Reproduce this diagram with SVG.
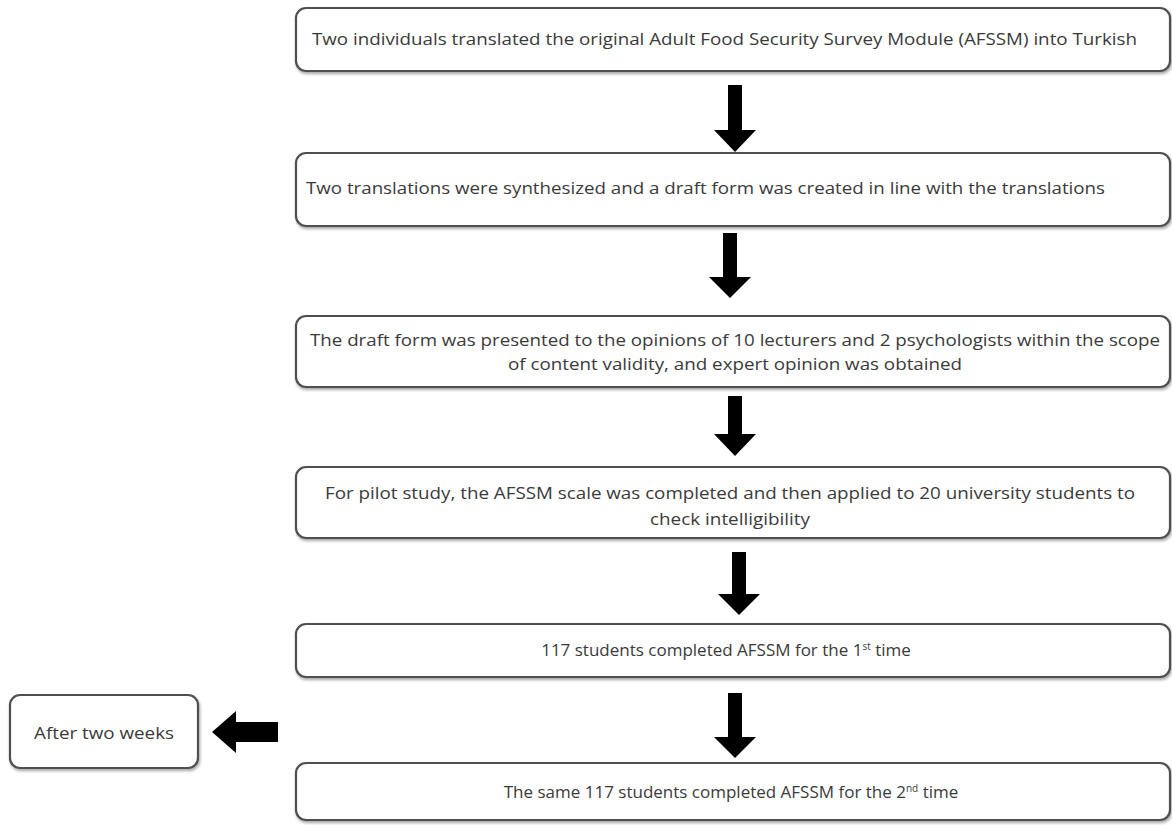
<svg xmlns="http://www.w3.org/2000/svg" width="1172" height="825" viewBox="0 0 1172 825">
<defs>
<style>
.box{fill:#fff;stroke:#505050;stroke-width:2.2;filter:url(#sh)}
.t{font-family:"Open Sans","Liberation Sans",sans-serif;font-size:16px;fill:#3a3a3a}
.c{text-anchor:middle}
.b{font-size:17px}
.arr{fill:#000}
</style>
<filter id="sh" x="-5%" y="-20%" width="110%" height="150%">
<feDropShadow dx="1" dy="2" stdDeviation="1.5" flood-color="#000" flood-opacity="0.35"/>
</filter>
</defs>
<rect width="1172" height="825" fill="#fff"/>
<g id="connectors">
<polygon class="arr" points="728,85 742,85 742,130 756,130 735,152 714,130 728,130"/>
<polygon class="arr" points="723,233 737,233 737,277 751,277 730,298 709,277 723,277"/>
<polygon class="arr" points="728,396 742,396 742,434 756,434 735,456 714,434 728,434"/>
<polygon class="arr" points="732,552 746,552 746,594 760,594 739,615 718,594 732,594"/>
<polygon class="arr" points="728,693 742,693 742,737 756,737 735,758 714,737 728,737"/>
<polygon class="arr" points="278,722 278,742 236,742 236,753 212,732 236,711 236,722"/>
</g>
<g id="n1">
<rect class="box" x="296" y="8" width="874" height="63" rx="10"/>
<text class="t" x="312" y="45" textLength="825" lengthAdjust="spacingAndGlyphs">Two individuals translated the original Adult Food Security Survey Module (AFSSM) into Turkish</text>
</g>
<g id="n2">
<rect class="box" x="296" y="153" width="874" height="73" rx="10"/>
<text class="t" x="306" y="194" textLength="799" lengthAdjust="spacingAndGlyphs">Two translations were synthesized and a draft form was created in line with the translations</text>
</g>
<g id="n3">
<rect class="box" x="296" y="316" width="874" height="71" rx="10"/>
<text class="t" x="310" y="346" textLength="850" lengthAdjust="spacingAndGlyphs">The draft form was presented to the opinions of 10 lecturers and 2 psychologists within the scope</text>
<text class="t" x="508" y="370" textLength="454" lengthAdjust="spacingAndGlyphs">of content validity, and expert opinion was obtained</text>
</g>
<g id="n4">
<rect class="box" x="296" y="467" width="874" height="71" rx="10"/>
<text class="t" x="325" y="499" textLength="810" lengthAdjust="spacingAndGlyphs">For pilot study, the AFSSM scale was completed and then applied to 20 university students to</text>
<text class="t" x="650" y="525" textLength="160" lengthAdjust="spacingAndGlyphs">check intelligibility</text>
</g>
<g id="n5">
<rect class="box" x="296" y="624" width="874" height="53" rx="10"/>
<text class="t c b" x="726" y="656">117 students completed AFSSM for the 1<tspan font-size="10" dy="-6">st</tspan><tspan dy="6"> time</tspan></text>
</g>
<g id="n6">
<rect class="box" x="296" y="763" width="874" height="57" rx="10"/>
<text class="t c b" x="731" y="798">The same 117 students completed AFSSM for the 2<tspan font-size="10" dy="-6">nd</tspan><tspan dy="6"> time</tspan></text>
</g>
<g id="n7">
<rect class="box" x="10" y="695" width="188" height="73" rx="10"/>
<text class="t" x="34" y="739" textLength="140" lengthAdjust="spacingAndGlyphs">After two weeks</text>
</g>
</svg>
